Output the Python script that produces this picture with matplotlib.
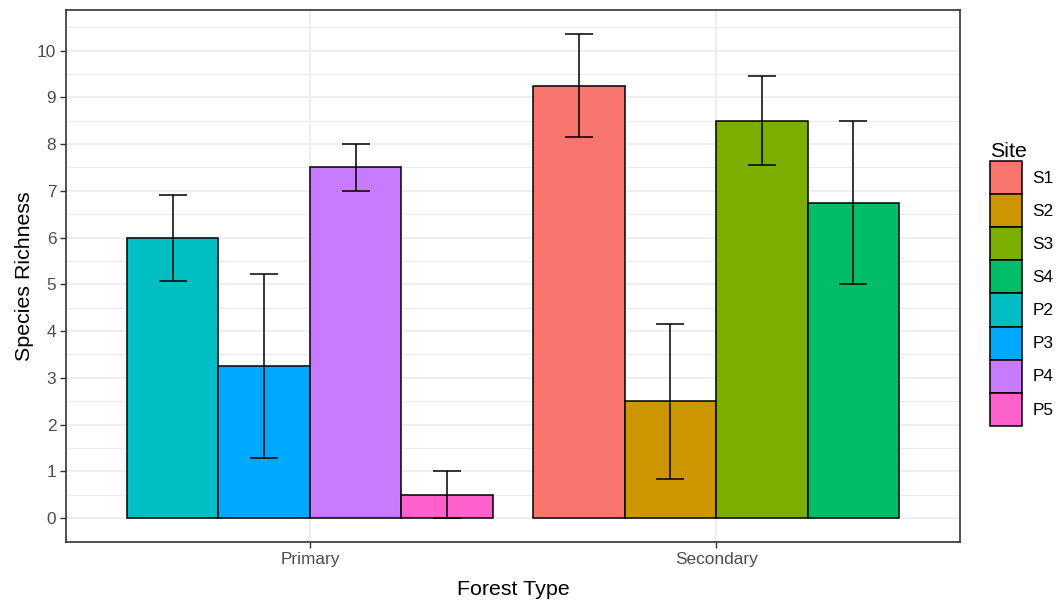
import matplotlib
matplotlib.use("Agg")
import matplotlib.pyplot as plt
from matplotlib.patches import Patch
import numpy as np

plt.rcParams['font.family'] = ['Liberation Sans', 'DejaVu Sans']

forest_types = ["Primary", "Secondary"]
sites = ["S1", "S2", "S3", "S4", "P2", "P3", "P4", "P5"]
site_forest = ["Secondary", "Secondary", "Secondary", "Secondary",
               "Primary", "Primary", "Primary", "Primary"]
richness = [9.25, 2.5, 8.5, 6.75, 6.0, 3.25, 7.5, 0.5]
errors = [1.1, 1.66, 0.95, 1.75, 0.92, 1.97, 0.5, 0.5]
colors = ["#F8766D", "#CD9600", "#7CAE00", "#00BE67",
          "#00BFC4", "#00A9FF", "#C77CFF", "#FF61CC"]

fig = plt.figure(figsize=(10.61, 6.03), dpi=100)
ax = fig.add_axes([66/1061, 1-542.3/603, (960-66)/1061, (542.3-10)/603])

dodge = 0.9
n_per = 4
bw = dodge / n_per
for ft_i, ft in enumerate(forest_types):
    idx = [i for i, f in enumerate(site_forest) if f == ft]
    for k, i in enumerate(idx):
        x = ft_i + 1 - dodge/2 + bw*(k + 0.5)
        ax.bar(x, richness[i], width=bw, color=colors[i], edgecolor="black",
               linewidth=1.1, zorder=3)
        ax.errorbar(x, richness[i], yerr=errors[i], fmt="none", ecolor="black",
                    elinewidth=1.1, capsize=10, capthick=1.1, zorder=4)

ax.set_xlim(0.4, 2.6)
ax.set_ylim(-0.5175, 10.8675)
ax.set_xticks([1, 2])
ax.set_xticklabels(forest_types)
ax.set_yticks(np.arange(0, 11, 1))
ax.set_yticks(np.arange(-0.5, 11, 0.5), minor=True)
ax.tick_params(axis="both", which="major", length=4, width=1.0, color="#333333",
               labelcolor="#4D4D4D", labelsize=12.4, pad=3)
ax.tick_params(axis="both", which="minor", length=0)
ax.grid(True, which="major", color="#EBEBEB", linewidth=1.1, zorder=0)
ax.grid(True, which="minor", axis="y", color="#EBEBEB", linewidth=0.7, zorder=0)
ax.set_axisbelow(True)
for s in ax.spines.values():
    s.set_color("#333333")
    s.set_linewidth(1.2)

ax.set_xlabel("Forest Type", fontsize=15.4, color="black", labelpad=9)
ax.set_ylabel("Species Richness", fontsize=15.4, color="black", labelpad=2)

handles = [Patch(facecolor=colors[i], edgecolor="black", linewidth=1.1) for i in range(len(sites))]
leg = fig.legend(handles, sites, title="Site", loc="upper left",
                 bbox_to_anchor=(978/1061, 1-130/603), frameon=False,
                 fontsize=12.4, title_fontsize=15.4, handlelength=1.85,
                 handleheight=2.58, labelspacing=0.0, handletextpad=0.6,
                 borderpad=0.2)
leg._legend_box.align = "left"

fig.savefig("out.png", dpi=100)
